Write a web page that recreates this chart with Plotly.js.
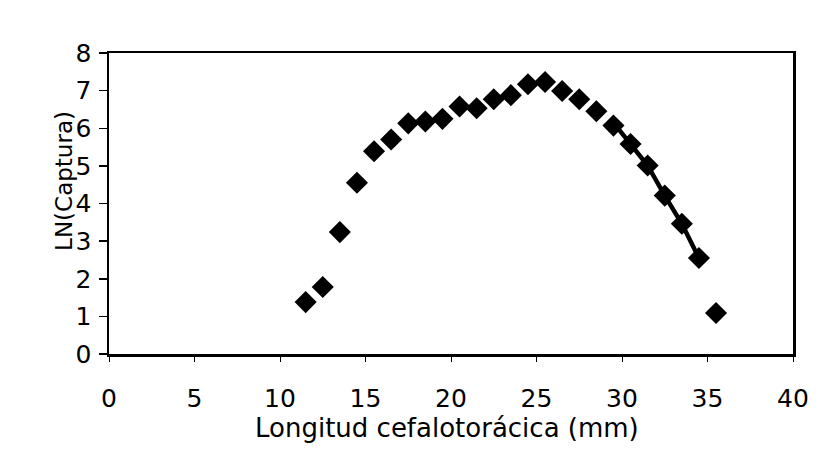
<!DOCTYPE html>
<html><head><meta charset="utf-8">
<script src="https://cdn.plot.ly/plotly-3.0.1.min.js"></script>
<style>html,body{margin:0;padding:0;background:#fff}#chart{width:819px;height:465px}</style>
</head><body><div id="chart"></div>
<script>
const lengthMm = [11.5,12.5,13.5,14.5,15.5,16.5,17.5,18.5,19.5,20.5,21.5,22.5,23.5,24.5,25.5,26.5,27.5,28.5,29.5,30.5,31.5,32.5,33.5,34.5,35.5];
const lnCatch = [1.38,1.78,3.24,4.55,5.39,5.70,6.13,6.18,6.25,6.58,6.53,6.77,6.88,7.17,7.23,6.99,6.77,6.45,6.07,5.58,5.01,4.21,3.46,2.55,1.09];
const fitX = [29.5,30.5,31.5,32.5,33.5,34.5];
const fitY = [6.15,5.58,5.01,4.21,3.46,2.55];
const xTicks = [0,5,10,15,20,25,30,35,40];
const yTicks = [0,1,2,3,4,5,6,7,8];
const xTitle = 'Longitud cefalotorácica (mm)';
const yTitle = 'LN(Captura)';

const fontFam = '"DejaVu Sans", "Open Sans", sans-serif';
const data = [
  {x: fitX, y: fitY, mode: 'lines', type: 'scatter', line: {color: '#000', width: 4.5}, hoverinfo: 'skip'},
  {x: lengthMm, y: lnCatch, mode: 'markers', type: 'scatter',
   marker: {symbol: 'diamond', size: 17, color: '#000'}}
];
const layout = {
  width: 819, height: 465, showlegend: false,
  paper_bgcolor: '#fff', plot_bgcolor: '#fff',
  margin: {l: 109, r: 26, t: 53, b: 111},
  font: {family: fontFam, color: '#000', size: 25},
  xaxis: {range: [0, 40], tickvals: xTicks, ticktext: xTicks.map(String),
    showgrid: false, zeroline: false, showline: true, linecolor: '#000', linewidth: 2.5,
    mirror: true, ticks: 'outside', ticklen: 5, tickcolor: '#000', tickwidth: 1,
    ticklabelstandoff: 15, tickfont: {size: 25, family: fontFam}},
  yaxis: {range: [0, 8], tickvals: yTicks, ticktext: yTicks.map(String),
    showgrid: false, zeroline: false, showline: true, linecolor: '#000', linewidth: 2.5,
    mirror: true, ticks: 'outside', ticklen: 8, tickcolor: '#000', tickwidth: 1.5,
    ticklabelstandoff: 2, tickfont: {size: 25, family: fontFam}},
  annotations: [
    {text: xTitle, xref: 'paper', yref: 'paper', x: 0.494, y: -0.246,
     xanchor: 'center', yanchor: 'middle', showarrow: false, font: {size: 26, family: fontFam}},
    {text: yTitle, xref: 'paper', yref: 'paper', x: -0.0658, y: 0.575, textangle: -90,
     xanchor: 'center', yanchor: 'middle', showarrow: false, font: {size: 23, family: fontFam}}
  ]
};
Plotly.newPlot('chart', data, layout, {displayModeBar: false, staticPlot: true});
</script></body></html>
